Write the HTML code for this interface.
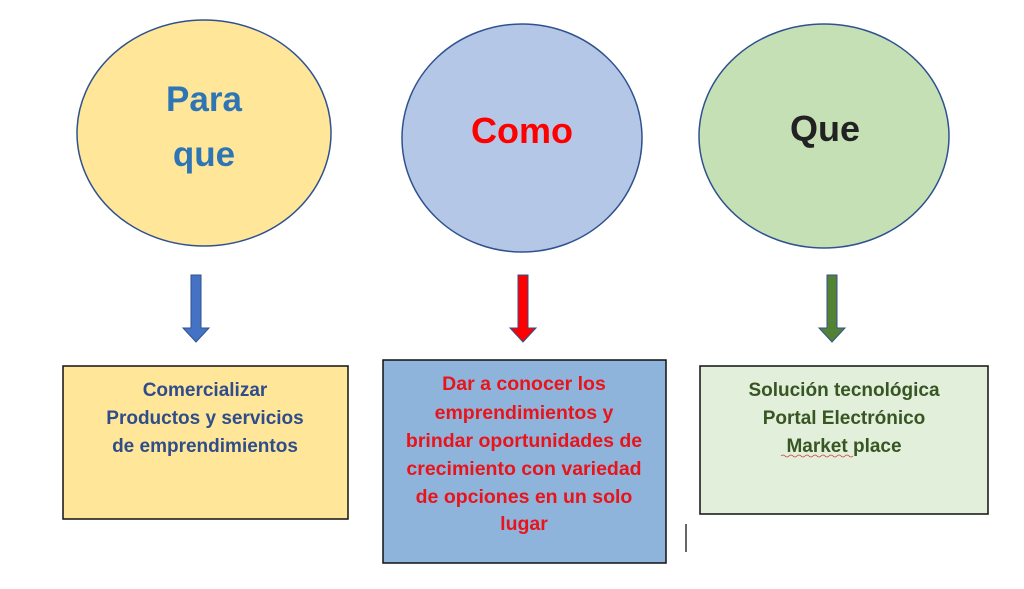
<!DOCTYPE html>
<html><head><meta charset="utf-8"><style>
html,body{margin:0;padding:0;background:#fff;width:1024px;height:589px;overflow:hidden}
text{font-family:"Liberation Sans",sans-serif;font-weight:bold}
</style></head><body>
<svg width="1024" height="589" viewBox="0 0 1024 589" xmlns="http://www.w3.org/2000/svg">
<ellipse cx="204" cy="133" rx="127" ry="113" fill="#FFE699" stroke="#2F528F" stroke-width="1.5"/>
<ellipse cx="522" cy="138" rx="120" ry="114" fill="#B4C7E7" stroke="#2F528F" stroke-width="1.5"/>
<ellipse cx="824" cy="136" rx="125" ry="112" fill="#C5E0B4" stroke="#2F528F" stroke-width="1.5"/>
<text x="204" y="111" font-size="35" fill="#2E75B6" text-anchor="middle">Para</text>
<text x="204" y="166" font-size="35" fill="#2E75B6" text-anchor="middle">que</text>
<text x="522" y="143" font-size="36" fill="#FF0000" text-anchor="middle">Como</text>
<text x="825" y="141" font-size="36" fill="#222" text-anchor="middle">Que</text>
<polygon points="191,275 201,275 201,328 209,328 196,342 183,328 191,328" fill="#4472C4" stroke="#2F528F"/>
<polygon points="518,275 528,275 528,328 536,328 523,342 510,328 518,328" fill="#FF0000" stroke="#2F528F"/>
<polygon points="827,275 837,275 837,328 845,328 832,342 819,328 827,328" fill="#548235" stroke="#2F528F"/>
<rect x="63" y="366" width="285" height="153" fill="#FFE699" stroke="#111" stroke-width="1.5"/>
<rect x="383" y="360" width="283" height="203" fill="#8FB4DC" stroke="#111" stroke-width="1.5"/>
<rect x="700" y="366" width="288" height="148" fill="#E2EFDA" stroke="#111" stroke-width="1.5"/>
<g font-size="19" fill="#2F4D8A" text-anchor="middle">
<text x="205" y="396">Comercializar</text>
<text x="205" y="424">Productos y servicios</text>
<text x="205" y="452">de emprendimientos</text>
</g>
<g font-size="19.5" fill="#E8141A" text-anchor="middle">
<text x="524" y="390">Dar a conocer los</text>
<text x="524" y="419">emprendimientos y</text>
<text x="524" y="447">brindar oportunidades de</text>
<text x="524" y="475">crecimiento con variedad</text>
<text x="524" y="503">de opciones en un solo</text>
<text x="524" y="530">lugar</text>
</g>
<g font-size="19" fill="#375623" text-anchor="middle">
<text x="844" y="396">Solución tecnológica</text>
<text x="844" y="424">Portal Electrónico</text>
<text x="844" y="452">Market place</text>
</g>
<path d="M781 456 q2 -2 4 0 t4 0 t4 0 t4 0 t4 0 t4 0 t4 0 t4 0 t4 0 t4 0 t4 0 t4 0 t4 0 t4 0 t4 0 t4 0 t4 0 t4 0" stroke="#D04040" fill="none" stroke-width="0.8"/>
<line x1="686" y1="524" x2="686" y2="552" stroke="#333" stroke-width="1.5"/>
</svg>
</body></html>
